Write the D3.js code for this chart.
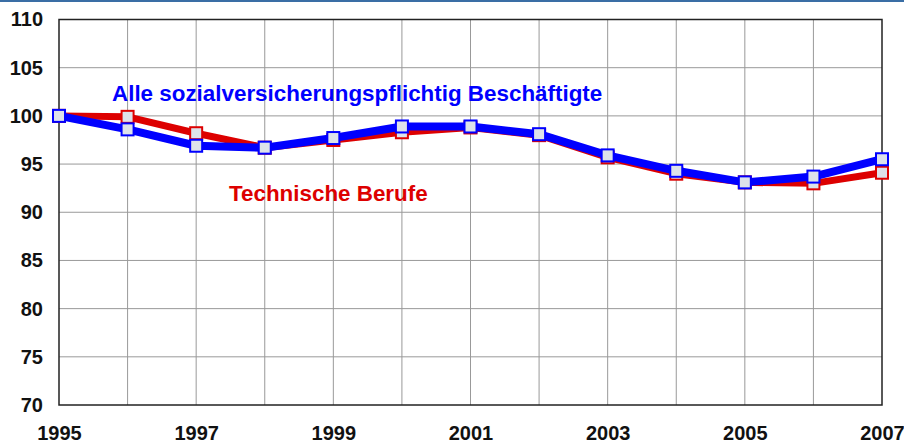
<!DOCTYPE html>
<html><head><meta charset="utf-8">
<script src="https://cdn.jsdelivr.net/npm/d3@7/dist/d3.min.js"></script>
<style>body{margin:0;background:#fff}svg{display:block}</style>
</head><body>
<svg id="c" width="904" height="445"></svg>
<script>
const years = [1995,1996,1997,1998,1999,2000,2001,2002,2003,2004,2005,2006,2007];
const alle = [100,98.6,96.9,96.7,97.7,98.9,98.9,98.1,95.9,94.3,93.1,93.7,95.5];
const technische = [100,99.9,98.2,96.7,97.5,98.3,98.8,98.0,95.7,94.0,93.1,93.0,94.1];
const yTicks = [70,75,80,85,90,95,100,105,110];
const xLabelYears = [1995,1997,1999,2001,2003,2005,2007];
const labelAlle = "Alle sozialversicherungspflichtig Beschäftigte";
const labelTech = "Technische Berufe";

const svg = d3.select("#c");
const font = "'Liberation Sans', Arial, sans-serif";
const L = 59, R = 882, T = 19.5, B = 405;
const x = d3.scaleLinear().domain([1995,2007]).range([L,R]);
const y = d3.scaleLinear().domain([70,110]).range([B,T]);

svg.append("rect").attr("x",0).attr("y",0).attr("width",904).attr("height",2).attr("fill","#3a6ea5");

// grid
svg.append("g").selectAll("line").data(years.slice(1,-1)).join("line")
  .attr("x1",d=>x(d)).attr("x2",d=>x(d)).attr("y1",T).attr("y2",B)
  .attr("stroke","#999").attr("stroke-width",1);
svg.append("g").selectAll("line").data(yTicks.slice(1,-1)).join("line")
  .attr("x1",L).attr("x2",R).attr("y1",d=>y(d)).attr("y2",d=>y(d))
  .attr("stroke","#999").attr("stroke-width",1);
svg.append("rect").attr("x",L).attr("y",T).attr("width",R-L).attr("height",B-T)
  .attr("fill","none").attr("stroke","#222").attr("stroke-width",1.5);

// axes labels
const yAxis = d3.axisLeft(y).tickValues(yTicks).tickSize(0).tickPadding(16);
const gy = svg.append("g").attr("transform",`translate(${L},0)`).call(yAxis);
gy.select(".domain").remove();
gy.selectAll("text").attr("font-family",font).attr("font-size",20).attr("font-weight","bold").attr("fill","#111");

const xAxis = d3.axisBottom(x).tickValues(xLabelYears).tickFormat(d3.format("d")).tickSize(0).tickPadding(21);
const gx = svg.append("g").attr("transform",`translate(0,${B})`).call(xAxis);
gx.select(".domain").remove();
gx.selectAll("text").attr("font-family",font).attr("font-size",20).attr("font-weight","bold").attr("fill","#111");

const line = d3.line().x((d,i)=>x(years[i])).y(d=>y(d));
function series(vals,color,w){
  svg.append("path").datum(vals).attr("d",line).attr("fill","none")
    .attr("stroke",color).attr("stroke-width",w).attr("stroke-linejoin","round");
}
function markers(vals,color){
  svg.append("g").selectAll("rect").data(vals).join("rect")
    .attr("x",(d,i)=>x(years[i])-6).attr("y",d=>y(d)-6).attr("width",12).attr("height",12)
    .attr("fill","#dde2ea").attr("stroke",color).attr("stroke-width",2);
}
series(technische,"#dd0000",7);
markers(technische,"#dd0000");
series(alle,"#0000ff",8);
markers(alle,"#0000ff");

svg.append("text").attr("x",112).attr("y",101).text(labelAlle)
  .attr("font-family",font).attr("font-size",22.4).attr("font-weight","bold").attr("fill","#0000ff");
svg.append("text").attr("x",229).attr("y",201).text(labelTech)
  .attr("font-family",font).attr("font-size",22.4).attr("font-weight","bold").attr("fill","#dd0000");
</script>
</body></html>
